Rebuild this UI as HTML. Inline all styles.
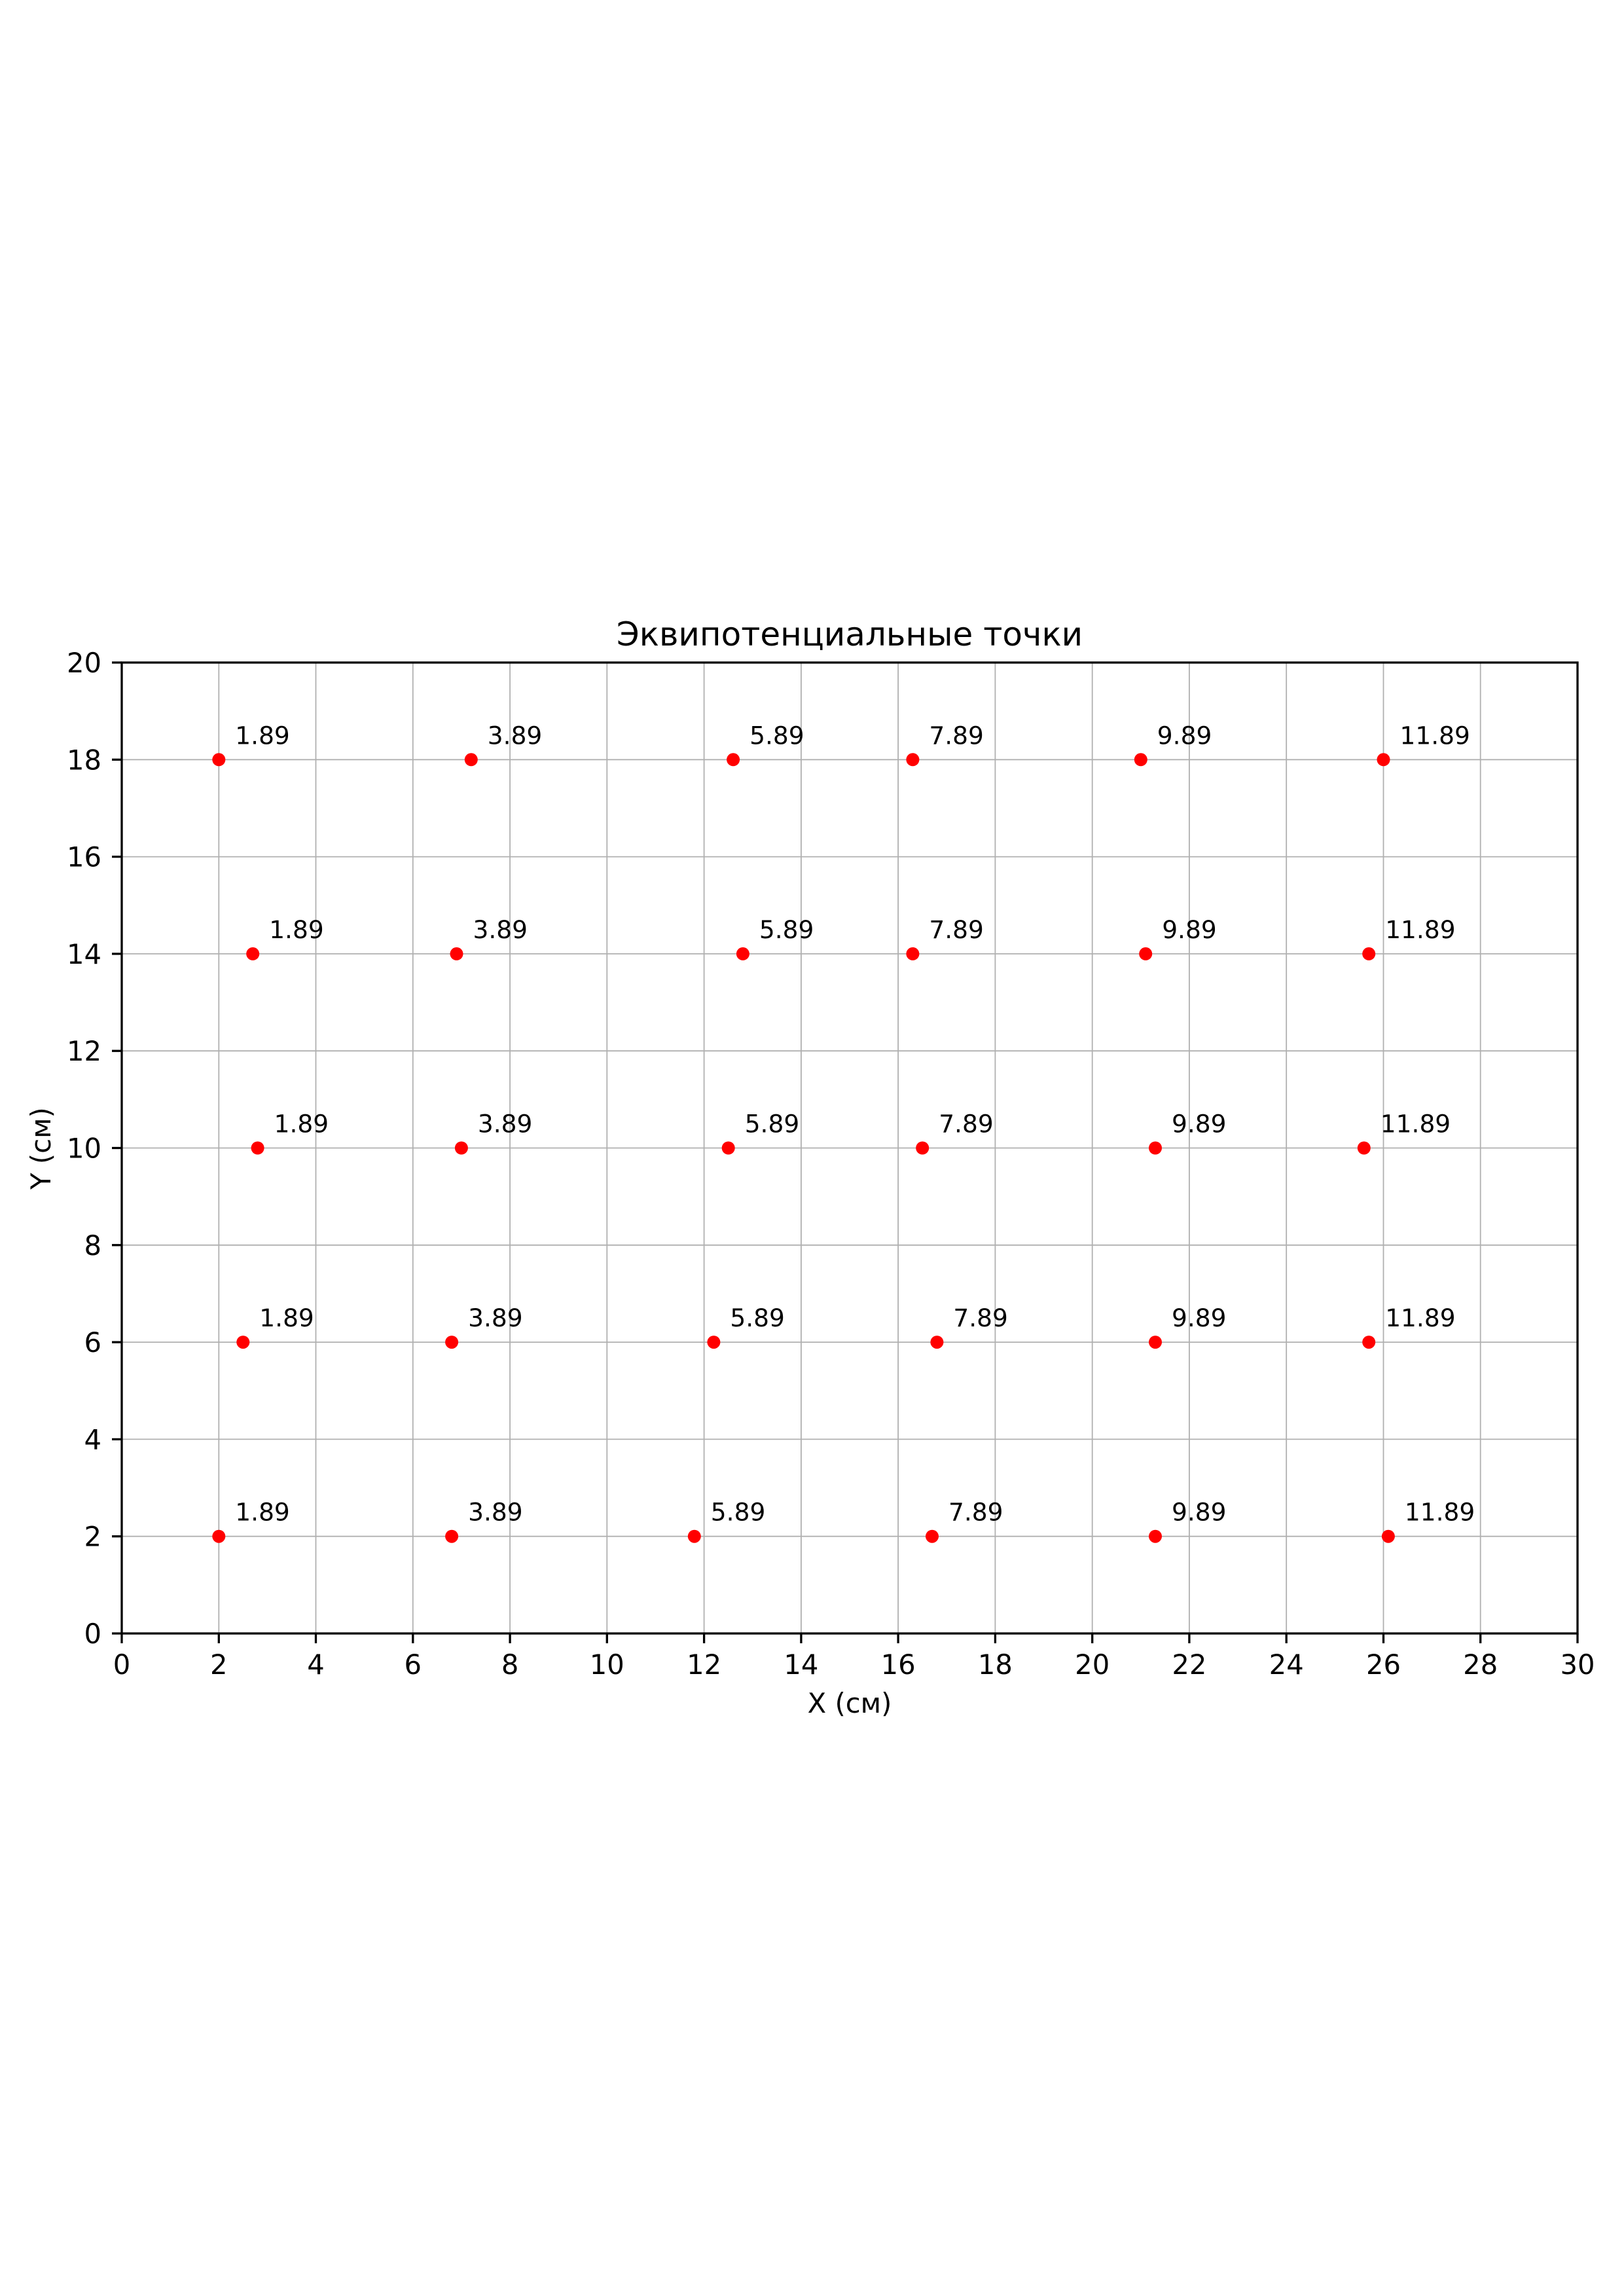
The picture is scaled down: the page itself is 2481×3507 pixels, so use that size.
<!DOCTYPE html>
<html><head><meta charset="utf-8"><style>html,body{margin:0;padding:0;background:#fff}svg{display:block}</style></head>
<body>
<svg xmlns="http://www.w3.org/2000/svg" width="2481" height="3507" viewBox="0 0 2481 3507" font-family="DejaVu Sans, Liberation Sans, sans-serif">
<rect width="2481" height="3507" fill="#fff"/>
<g stroke="#b0b0b0" stroke-width="1.8">
<line x1="334.3" y1="1012" x2="334.3" y2="2495"/><line x1="482.5" y1="1012" x2="482.5" y2="2495"/><line x1="630.8" y1="1012" x2="630.8" y2="2495"/><line x1="779.1" y1="1012" x2="779.1" y2="2495"/><line x1="927.3" y1="1012" x2="927.3" y2="2495"/><line x1="1075.6" y1="1012" x2="1075.6" y2="2495"/><line x1="1223.9" y1="1012" x2="1223.9" y2="2495"/><line x1="1372.1" y1="1012" x2="1372.1" y2="2495"/><line x1="1520.4" y1="1012" x2="1520.4" y2="2495"/><line x1="1668.7" y1="1012" x2="1668.7" y2="2495"/><line x1="1816.9" y1="1012" x2="1816.9" y2="2495"/><line x1="1965.2" y1="1012" x2="1965.2" y2="2495"/><line x1="2113.5" y1="1012" x2="2113.5" y2="2495"/><line x1="2261.7" y1="1012" x2="2261.7" y2="2495"/>
<line x1="186" y1="2346.7" x2="2410" y2="2346.7"/><line x1="186" y1="2198.4" x2="2410" y2="2198.4"/><line x1="186" y1="2050.1" x2="2410" y2="2050.1"/><line x1="186" y1="1901.8" x2="2410" y2="1901.8"/><line x1="186" y1="1753.5" x2="2410" y2="1753.5"/><line x1="186" y1="1605.2" x2="2410" y2="1605.2"/><line x1="186" y1="1456.9" x2="2410" y2="1456.9"/><line x1="186" y1="1308.6" x2="2410" y2="1308.6"/><line x1="186" y1="1160.3" x2="2410" y2="1160.3"/>
</g>
<g font-size="37.5" fill="#000">
<g transform="translate(334.3,1160.3)"><circle r="10" fill="#f00"/><text x="25" y="-24">1.89</text></g>
<g transform="translate(719.8,1160.3)"><circle r="10" fill="#f00"/><text x="25" y="-24">3.89</text></g>
<g transform="translate(1120.1,1160.3)"><circle r="10" fill="#f00"/><text x="25" y="-24">5.89</text></g>
<g transform="translate(1394.4,1160.3)"><circle r="10" fill="#f00"/><text x="25" y="-24">7.89</text></g>
<g transform="translate(1742.8,1160.3)"><circle r="10" fill="#f00"/><text x="25" y="-24">9.89</text></g>
<g transform="translate(2113.5,1160.3)"><circle r="10" fill="#f00"/><text x="25" y="-24">11.89</text></g>
<g transform="translate(386.2,1456.9)"><circle r="10" fill="#f00"/><text x="25" y="-24">1.89</text></g>
<g transform="translate(697.5,1456.9)"><circle r="10" fill="#f00"/><text x="25" y="-24">3.89</text></g>
<g transform="translate(1134.9,1456.9)"><circle r="10" fill="#f00"/><text x="25" y="-24">5.89</text></g>
<g transform="translate(1394.4,1456.9)"><circle r="10" fill="#f00"/><text x="25" y="-24">7.89</text></g>
<g transform="translate(1750.2,1456.9)"><circle r="10" fill="#f00"/><text x="25" y="-24">9.89</text></g>
<g transform="translate(2091.2,1456.9)"><circle r="10" fill="#f00"/><text x="25" y="-24">11.89</text></g>
<g transform="translate(393.6,1753.5)"><circle r="10" fill="#f00"/><text x="25" y="-24">1.89</text></g>
<g transform="translate(704.9,1753.5)"><circle r="10" fill="#f00"/><text x="25" y="-24">3.89</text></g>
<g transform="translate(1112.7,1753.5)"><circle r="10" fill="#f00"/><text x="25" y="-24">5.89</text></g>
<g transform="translate(1409.2,1753.5)"><circle r="10" fill="#f00"/><text x="25" y="-24">7.89</text></g>
<g transform="translate(1765.0,1753.5)"><circle r="10" fill="#f00"/><text x="25" y="-24">9.89</text></g>
<g transform="translate(2083.8,1753.5)"><circle r="10" fill="#f00"/><text x="25" y="-24">11.89</text></g>
<g transform="translate(371.3,2050.1)"><circle r="10" fill="#f00"/><text x="25" y="-24">1.89</text></g>
<g transform="translate(690.1,2050.1)"><circle r="10" fill="#f00"/><text x="25" y="-24">3.89</text></g>
<g transform="translate(1090.4,2050.1)"><circle r="10" fill="#f00"/><text x="25" y="-24">5.89</text></g>
<g transform="translate(1431.4,2050.1)"><circle r="10" fill="#f00"/><text x="25" y="-24">7.89</text></g>
<g transform="translate(1765.0,2050.1)"><circle r="10" fill="#f00"/><text x="25" y="-24">9.89</text></g>
<g transform="translate(2091.2,2050.1)"><circle r="10" fill="#f00"/><text x="25" y="-24">11.89</text></g>
<g transform="translate(334.3,2346.7)"><circle r="10" fill="#f00"/><text x="25" y="-24">1.89</text></g>
<g transform="translate(690.1,2346.7)"><circle r="10" fill="#f00"/><text x="25" y="-24">3.89</text></g>
<g transform="translate(1060.8,2346.7)"><circle r="10" fill="#f00"/><text x="25" y="-24">5.89</text></g>
<g transform="translate(1424.0,2346.7)"><circle r="10" fill="#f00"/><text x="25" y="-24">7.89</text></g>
<g transform="translate(1765.0,2346.7)"><circle r="10" fill="#f00"/><text x="25" y="-24">9.89</text></g>
<g transform="translate(2120.9,2346.7)"><circle r="10" fill="#f00"/><text x="25" y="-24">11.89</text></g>
</g>
<rect x="186" y="1012" width="2224" height="1483" fill="none" stroke="#000" stroke-width="3.3"/>
<g stroke="#000" stroke-width="3.3">
<line x1="186" y1="2495" x2="186" y2="2510"/><line x1="334.3" y1="2495" x2="334.3" y2="2510"/><line x1="482.5" y1="2495" x2="482.5" y2="2510"/><line x1="630.8" y1="2495" x2="630.8" y2="2510"/><line x1="779.1" y1="2495" x2="779.1" y2="2510"/><line x1="927.3" y1="2495" x2="927.3" y2="2510"/><line x1="1075.6" y1="2495" x2="1075.6" y2="2510"/><line x1="1223.9" y1="2495" x2="1223.9" y2="2510"/><line x1="1372.1" y1="2495" x2="1372.1" y2="2510"/><line x1="1520.4" y1="2495" x2="1520.4" y2="2510"/><line x1="1668.7" y1="2495" x2="1668.7" y2="2510"/><line x1="1816.9" y1="2495" x2="1816.9" y2="2510"/><line x1="1965.2" y1="2495" x2="1965.2" y2="2510"/><line x1="2113.5" y1="2495" x2="2113.5" y2="2510"/><line x1="2261.7" y1="2495" x2="2261.7" y2="2510"/><line x1="2410" y1="2495" x2="2410" y2="2510"/>
<line x1="171" y1="2495" x2="186" y2="2495"/><line x1="171" y1="2346.7" x2="186" y2="2346.7"/><line x1="171" y1="2198.4" x2="186" y2="2198.4"/><line x1="171" y1="2050.1" x2="186" y2="2050.1"/><line x1="171" y1="1901.8" x2="186" y2="1901.8"/><line x1="171" y1="1753.5" x2="186" y2="1753.5"/><line x1="171" y1="1605.2" x2="186" y2="1605.2"/><line x1="171" y1="1456.9" x2="186" y2="1456.9"/><line x1="171" y1="1308.6" x2="186" y2="1308.6"/><line x1="171" y1="1160.3" x2="186" y2="1160.3"/><line x1="171" y1="1012" x2="186" y2="1012"/>
</g>
<g font-size="41.7" text-anchor="middle" fill="#000">
<text x="186" y="2557">0</text><text x="334.3" y="2557">2</text><text x="482.5" y="2557">4</text><text x="630.8" y="2557">6</text><text x="779.1" y="2557">8</text><text x="927.3" y="2557">10</text><text x="1075.6" y="2557">12</text><text x="1223.9" y="2557">14</text><text x="1372.1" y="2557">16</text><text x="1520.4" y="2557">18</text><text x="1668.7" y="2557">20</text><text x="1816.9" y="2557">22</text><text x="1965.2" y="2557">24</text><text x="2113.5" y="2557">26</text><text x="2261.7" y="2557">28</text><text x="2410" y="2557">30</text>
</g>
<g font-size="41.7" text-anchor="end" fill="#000">
<text x="155" y="2510">0</text><text x="155" y="2361.7">2</text><text x="155" y="2213.4">4</text><text x="155" y="2065.1">6</text><text x="155" y="1916.8">8</text><text x="155" y="1768.5">10</text><text x="155" y="1620.2">12</text><text x="155" y="1471.9">14</text><text x="155" y="1323.6">16</text><text x="155" y="1175.3">18</text><text x="155" y="1027">20</text>
</g>
<text x="1298" y="986" font-size="50" text-anchor="middle">Эквипотенциальные точки</text>
<text x="1298" y="2616" font-size="41.7" text-anchor="middle">X (см)</text>
<text transform="translate(77,1754) rotate(-90)" font-size="41.7" text-anchor="middle">Y (см)</text>
</svg>
</body></html>
